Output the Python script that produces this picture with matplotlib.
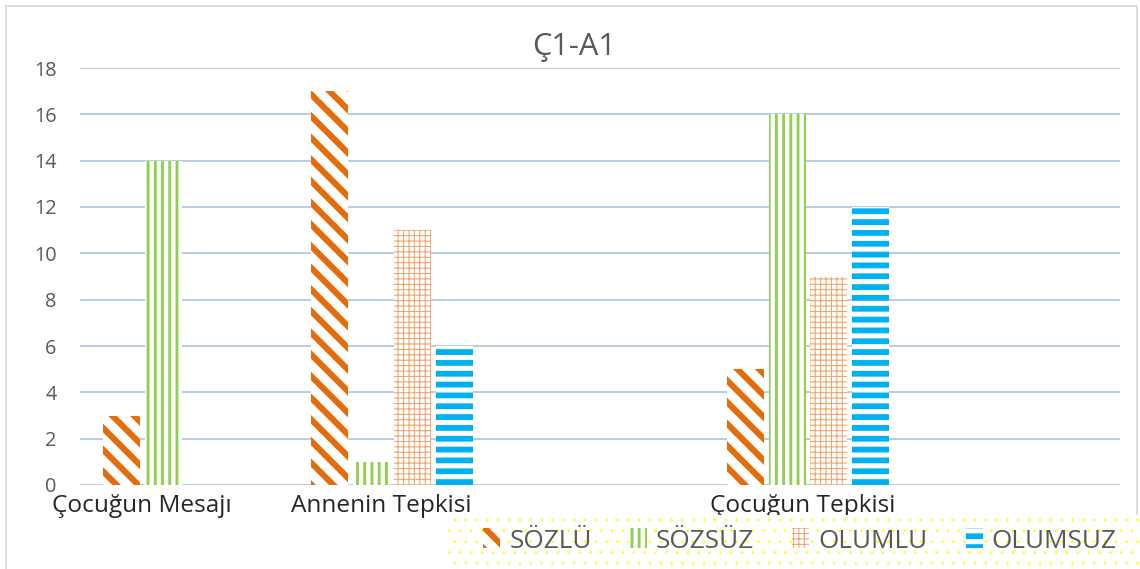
import matplotlib
matplotlib.use('Agg')
import matplotlib.pyplot as plt
import matplotlib.transforms as mtransforms
from matplotlib.patches import Rectangle
import numpy as np

# Data.
categories = ['Çocuğun Mesajı', 'Annenin Tepkisi', '', 'Çocuğun Tepkisi', '']
sozlu = [3, 17, 0, 5, 0]
sozsuz = [14, 1, 0, 16, 0]
olumlu = [0, 11, 0, 9, 0]
olumsuz = [0, 6, 0, 12, 0]
series_names = ['SÖZLÜ', 'SÖZSÜZ', 'OLUMLU', 'OLUMSUZ']
y_ticks = list(range(0, 19, 2))

plt.rcParams['font.family'] = ['Open Sans', 'DejaVu Sans']

DPI = 130
fig = plt.figure(figsize=(1140 / DPI, 569 / DPI), dpi=DPI)
ax = fig.add_axes([80 / 1140, 1 - 485 / 569, 1040 / 1140, 417 / 569])

# (color, hatch, hatch linewidth)
styles = [
    ('#E46C0A', '\\\\', 3.4),
    ('#92D050', '|||', 1.6),
    ('#F4A46E', '++++', 0.6),
    ('#00B0F0', '--', 3.2),
]

x = np.arange(len(categories))
step = 0.2
width = 0.178
bars = []
for i, (vals, name) in enumerate(zip([sozlu, sozsuz, olumlu, olumsuz], series_names)):
    color, hatch, hlw = styles[i]
    b = ax.bar(x + (i - 1.5) * step, vals, width, label=name, color='white',
               edgecolor=color, hatch=hatch, linewidth=0, zorder=3)
    for p in b:
        if hasattr(p, 'set_hatch_linewidth'):
            p.set_hatch_linewidth(hlw)
    bars.append(b)

ax.set_xlim(-0.5, 4.5)
ax.set_ylim(0, 18)
ax.set_yticks(y_ticks)
ax.set_xticks(x)
ax.set_xticklabels(categories, fontsize=13.5, color='#262626')
ax.tick_params(axis='y', length=0, pad=13, labelsize=11, labelcolor='#595959')
ax.tick_params(axis='x', length=0, pad=5)
ax.grid(axis='y', color='#B4C7E7', linewidth=1.0, zorder=0)
ax.set_axisbelow(True)
for s in ax.spines.values():
    s.set_visible(False)

# Shift category labels to where the reference has them.
shifts = [-42, -11, 0, -5, 0]
for lab, dx in zip(ax.get_xticklabels(), shifts):
    lab.set_transform(lab.get_transform() + mtransforms.ScaledTranslation(dx / DPI, 0, fig.dpi_scale_trans))

fig.text(0.504, 1 - 47 / 569, 'Ç1-A1', ha='center', va='center', fontsize=17, color='#595959')

# Outer chart border.
fig.patches.append(Rectangle((6 / 1140, -0.05), 1131 / 1140, 1.05 - 6 / 569, transform=fig.transFigure,
                             fill=False, edgecolor='#D9D9D9', linewidth=1, zorder=0))

# Dotted yellow legend background.
bg = Rectangle((448 / 1140, 0), 700 / 1140, 54 / 569, transform=fig.transFigure,
               facecolor='white', edgecolor='#FFFF00', hatch='..', linewidth=0, zorder=1)
if hasattr(bg, 'set_hatch_linewidth'):
    bg.set_hatch_linewidth(0.2)
fig.patches.append(bg)

leg = fig.legend(handles=bars, labels=series_names, ncol=4, loc='center',
                 bbox_to_anchor=(800 / 1140, 28 / 569), frameon=False, fontsize=14.5,
                 handlelength=0.65, handleheight=0.8, handletextpad=0.35, columnspacing=1.45,
                 labelcolor='#595959', borderaxespad=0)
leg.set_zorder(5)
for h, (color, hatch, hlw) in zip(leg.legend_handles, styles):
    h.set_edgecolor(color)
    h.set_hatch(hatch)
    if hasattr(h, 'set_hatch_linewidth'):
        h.set_hatch_linewidth(hlw)

fig.savefig('out.png', dpi=DPI)
